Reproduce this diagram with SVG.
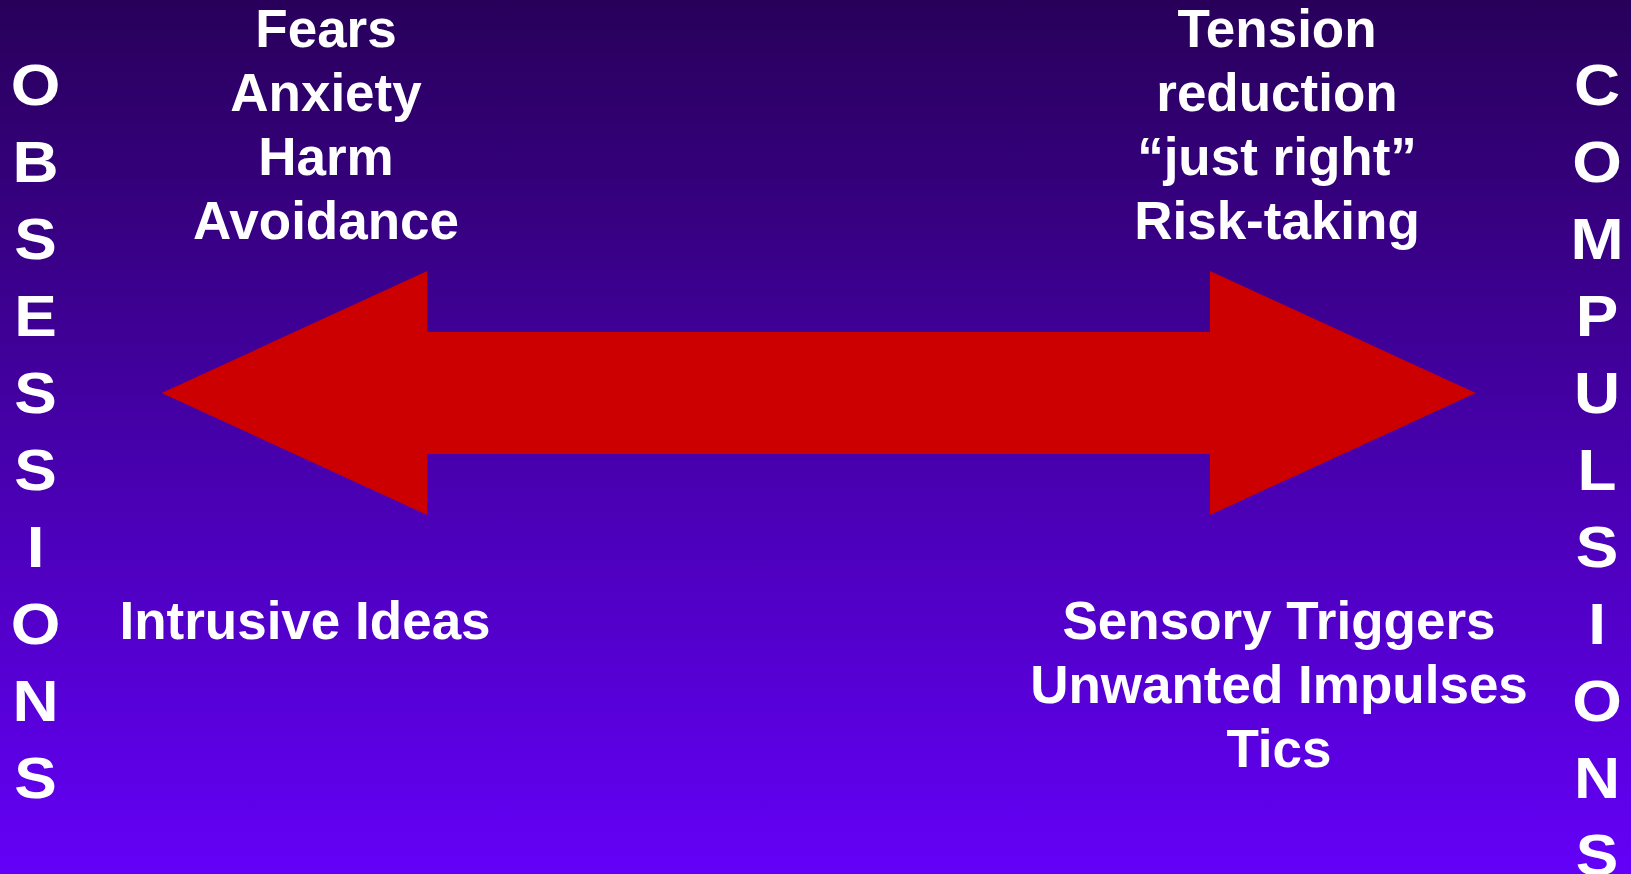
<svg xmlns="http://www.w3.org/2000/svg" width="1631" height="874" viewBox="0 0 1631 874">
<defs>
<linearGradient id="bg" x1="0" y1="0" x2="0" y2="1">
<stop offset="0" stop-color="#28005a"/>
<stop offset="1" stop-color="#6400f8"/>
</linearGradient>
<style>
text{font-family:"Liberation Sans",Arial,sans-serif;font-weight:bold;fill:#ffffff;text-anchor:middle}
.t{font-size:53px}
.v{font-size:57px}
.arrow{fill:#cc0000}
</style>
</defs>
<rect x="0" y="0" width="1631" height="874" fill="url(#bg)"/>
<g id="connectors">
<polygon class="arrow" points="161.7,393 427.3,271 427.3,332 1210,332 1210,271 1475.7,393 1210,515 1210,454 427.3,454 427.3,515"/>
</g>
<g id="obsessions" transform="translate(35.5 0) scale(1.12 1)">
<text class="v" x="0" y="105.5">O</text>
<text class="v" x="0" y="182.4">B</text>
<text class="v" x="0" y="259.3">S</text>
<text class="v" x="0" y="336.2">E</text>
<text class="v" x="0" y="413.1">S</text>
<text class="v" x="0" y="490">S</text>
<text class="v" x="0" y="566.9">I</text>
<text class="v" x="0" y="643.8">O</text>
<text class="v" x="0" y="720.7">N</text>
<text class="v" x="0" y="797.6">S</text>
</g>
<g id="compulsions" transform="translate(1597 0) scale(1.12 1)">
<text class="v" x="0" y="105">C</text>
<text class="v" x="0" y="182">O</text>
<text class="v" x="0" y="259">M</text>
<text class="v" x="0" y="336">P</text>
<text class="v" x="0" y="413">U</text>
<text class="v" x="0" y="490">L</text>
<text class="v" x="0" y="567">S</text>
<text class="v" x="0" y="644">I</text>
<text class="v" x="0" y="721">O</text>
<text class="v" x="0" y="798">N</text>
<text class="v" x="0" y="875">S</text>
</g>
<g id="obsession-traits">
<text class="t" x="326" y="47">Fears</text>
<text class="t" x="326" y="111">Anxiety</text>
<text class="t" x="326" y="175">Harm</text>
<text class="t" x="326" y="239">Avoidance</text>
</g>
<g id="compulsion-traits">
<text class="t" x="1277" y="47">Tension</text>
<text class="t" x="1277" y="111">reduction</text>
<text class="t" x="1277" y="175">“just right”</text>
<text class="t" x="1277" y="239">Risk-taking</text>
</g>
<g id="intrusive-ideas">
<text class="t" x="305" y="639">Intrusive Ideas</text>
</g>
<g id="compulsion-triggers">
<text class="t" x="1279" y="639">Sensory Triggers</text>
<text class="t" x="1279" y="703">Unwanted Impulses</text>
<text class="t" x="1279" y="767">Tics</text>
</g>
</svg>
